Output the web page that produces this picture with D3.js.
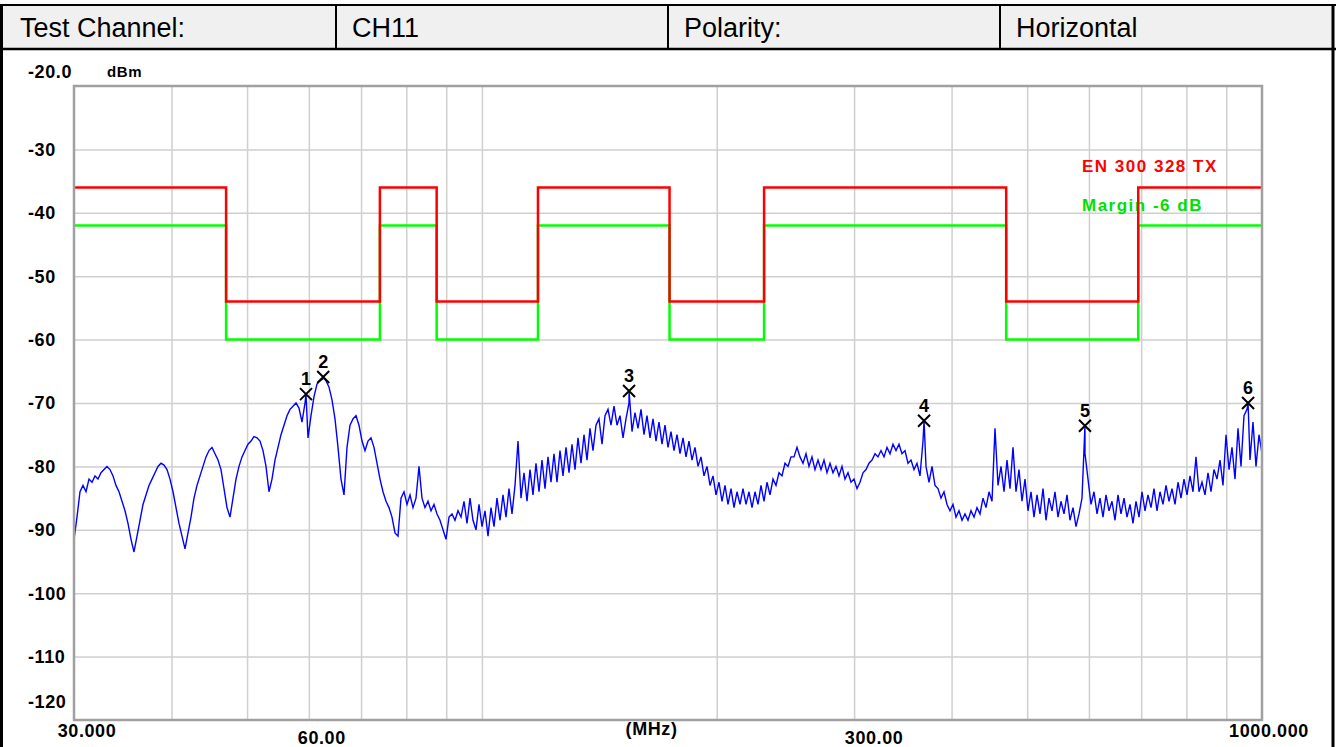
<!DOCTYPE html>
<html lang="en">
<head>
    <meta charset="UTF-8">
    <title>Radiated spurious emission - CH11 Horizontal</title>
    <script src="https://d3js.org/d3.v7.min.js"></script>
    <style>
        body {
            margin: 0;
            background: #fff;
        }
        .head-text {
            font-family: "Liberation Sans", Arial, sans-serif;
            font-size: 27px;
            fill: #000;
        }
        .axis-text {
            font-family: "Liberation Sans", Arial, sans-serif;
            font-weight: bold;
            font-size: 18px;
            fill: #000;
            letter-spacing: 0.6px;
        }
        .legend-text {
            font-family: "Liberation Sans", Arial, sans-serif;
            font-weight: bold;
            font-size: 17px;
            letter-spacing: 1.5px;
        }
        .marker-text {
            font-family: "Liberation Sans", Arial, sans-serif;
            font-weight: bold;
            font-size: 18px;
        }
    </style>
</head>
<body>
<div id="chart"></div>
<script>
    // header table
    var headCells = ["Test Channel:", "CH11", "Polarity:", "Horizontal"];

    // axes
    var yLabels = ["-20.0", "-30", "-40", "-50", "-60", "-70", "-80", "-90", "-100", "-110", "-120"];
    var yLabelValues = [-20, -30, -40, -50, -60, -70, -80, -90, -100, -110, -120];
    var yGrid = [-30, -40, -50, -60, -70, -80, -90, -100, -110];
    var xGrid = [40, 50, 60, 70, 80, 90, 100, 200, 300, 400, 500, 600, 700, 800, 900];
    var xLabels = ["30.000", "60.00", "(MHz)", "300.00", "1000.000"];

    // limit line EN 300 328 TX (dBm) and margin
    var limitEdges = [30, 47, 74, 87.5, 118, 174, 230, 470, 694, 1000];
    var limitLevels = [-36, -54, -36, -54, -36, -54, -36, -54, -36];
    var marginDb = -6;
    var legendNames = ["EN 300 328 TX", "Margin -6 dB"];

    // sweep settings (log sweep, 397 points)
    var sweepStart = 30, sweepStop = 1000;

    // measured trace, dBm, one value per sweep point
    var trace = [
        -91.5, -88.0, -84.0, -83.0, -84.0, -82.0, -82.5, -81.5, -82.0, -81.0,
        -80.5, -80.0, -80.5, -81.5, -83.0, -84.0, -85.5, -87.0, -89.0, -91.5,
        -93.5, -91.0, -88.5, -86.0, -84.5, -83.0, -82.0, -81.0, -80.0, -79.5,
        -79.8, -80.5, -82.0, -84.0, -86.5, -89.0, -91.0, -93.0, -90.5, -88.0,
        -85.0, -83.0, -81.5, -80.0, -78.5, -77.5, -77.0, -78.0, -79.0, -80.5,
        -83.5, -86.5, -88.0, -85.0, -82.0, -80.0, -78.5, -77.5, -76.5, -76.0,
        -75.3, -75.5, -76.0, -77.5, -80.0, -84.0, -82.0, -79.0, -77.0, -75.0,
        -73.5, -72.0, -71.0, -70.5, -70.0, -70.8, -73.0, -70.0, -75.5, -72.0,
        -69.0, -67.0, -66.5, -66.2, -66.5, -67.5, -69.5, -72.5, -77.0, -82.0,
        -84.5, -77.0, -73.5, -72.5, -72.0, -73.5, -76.0, -77.5, -76.0, -75.5,
        -77.0, -79.5, -82.0, -84.0, -85.5, -86.5, -88.0, -90.5, -91.0, -85.0,
        -84.0, -86.0, -84.5, -86.5, -85.0, -80.0, -85.0, -86.5, -85.5, -87.0,
        -86.0, -87.5, -88.5, -90.0, -91.5, -88.0, -87.5, -88.5, -87.0, -88.0,
        -85.5, -89.0, -85.0, -88.5, -90.0, -86.0, -89.5, -87.0, -91.0, -86.5,
        -89.5, -85.0, -88.5, -84.5, -88.0, -83.5, -87.5, -83.0, -76.0, -85.0,
        -81.0, -85.5, -80.5, -84.5, -79.5, -84.0, -79.0, -83.5, -78.5, -82.5,
        -78.0, -82.5, -77.5, -81.5, -77.0, -81.0, -76.5, -80.5, -75.5, -79.5,
        -75.0, -79.0, -74.0, -77.5, -73.5, -72.5, -76.5, -72.0, -71.0, -73.5,
        -70.5, -73.5, -72.0, -75.5, -72.5, -70.0, -74.5, -71.5, -74.0, -71.0,
        -75.0, -72.0, -75.5, -72.5, -76.0, -73.0, -76.5, -73.5, -77.0, -74.5,
        -77.5, -75.0, -78.0, -75.5, -78.5, -76.0, -79.0, -77.0, -80.0, -78.5,
        -81.5, -80.0, -83.0, -81.5, -84.5, -82.5, -85.5, -83.0, -86.0, -83.5,
        -86.5, -84.0, -86.0, -83.5, -86.0, -84.0, -86.5, -84.0, -86.0, -83.0,
        -85.5, -82.5, -84.5, -82.0, -83.0, -81.0, -81.5, -79.5, -80.0, -78.5,
        -78.5, -77.0, -78.5, -79.5, -78.0, -80.0, -78.5, -80.5, -79.0, -80.5,
        -79.0, -81.0, -79.5, -81.0, -80.0, -81.5, -80.0, -82.0, -81.0, -82.5,
        -82.0, -83.5, -82.5, -81.0, -80.5, -79.5, -79.0, -78.0, -78.5, -77.5,
        -78.5, -77.0, -78.0, -76.5, -77.5, -76.5, -78.0, -77.5, -79.5, -79.0,
        -80.5, -79.5, -81.5, -76.0, -80.0, -82.5, -80.0, -83.0, -83.5, -85.0,
        -84.0, -86.0, -87.0, -86.0, -88.0, -87.0, -88.5, -87.5, -88.5, -87.0,
        -88.0, -86.5, -87.5, -85.0, -86.5, -84.0, -85.5, -74.0, -83.0, -80.0,
        -84.0, -79.0, -83.5, -77.0, -84.0, -80.5, -85.5, -82.0, -87.0, -84.0,
        -88.0, -84.5, -87.5, -83.5, -88.5, -85.0, -87.0, -84.0, -88.0, -85.5,
        -87.5, -84.5, -88.5, -86.5, -89.5, -87.5, -85.0, -78.0, -82.0, -86.0,
        -84.0, -87.5, -85.0, -88.0, -84.5, -87.0, -85.5, -88.5, -84.5, -87.5,
        -85.0, -88.0, -86.0, -89.0, -85.5, -88.0, -84.0, -87.0, -84.5, -86.5,
        -83.5, -87.0, -84.0, -86.0, -83.0, -85.5, -83.5, -86.0, -82.5, -85.0,
        -82.0, -84.5, -81.5, -84.0, -78.5, -84.0, -82.5, -84.5, -81.0, -84.0,
        -80.5, -82.0, -79.0, -83.0, -75.0, -80.5, -77.0, -82.0, -74.0, -80.0,
        -72.0, -71.0, -79.0, -73.0, -80.0, -75.0, -78.0
    ];

    // peak markers
    var markerNo = ["1", "2", "3", "4", "5", "6"];
    var markerFreq = [59.5, 62.6, 154.4, 368.8, 593.0, 959.7];
    var markerLevel = [-68.6, -65.9, -68.1, -72.8, -73.6, -70.0];

    var W = 1336, H = 747;
    var plot = { left: 74, right: 1262, top: 86, bottom: 720 };

    var svg = d3.select("#chart")
        .append("svg")
        .attr("width", W)
        .attr("height", H)
        .style("display", "block");

    // ---- header table ----
    var cellW = (1332 - 4) / headCells.length;
    svg.append("rect")
        .attr("x", 2).attr("y", 5)
        .attr("width", 1331).attr("height", 44)
        .attr("fill", "#f0f0f0");

    svg.selectAll(".head-text")
        .data(headCells)
        .enter()
        .append("text")
        .attr("class", "head-text")
        .attr("x", (d, i) => 4 + i * cellW + 16)
        .attr("y", 37)
        .text(d => d);

    svg.selectAll(".head-div")
        .data(d3.range(1, headCells.length))
        .enter()
        .append("line")
        .attr("x1", i => 4 + i * cellW).attr("x2", i => 4 + i * cellW)
        .attr("y1", 5).attr("y2", 49)
        .attr("stroke", "#000").attr("stroke-width", 2);

    svg.append("line").attr("x1", 0).attr("x2", W).attr("y1", 5).attr("y2", 5)
        .attr("stroke", "#000").attr("stroke-width", 2);
    svg.append("line").attr("x1", 0).attr("x2", W).attr("y1", 49).attr("y2", 49)
        .attr("stroke", "#000").attr("stroke-width", 2.5);
    svg.append("line").attr("x1", 1.5).attr("x2", 1.5).attr("y1", 4).attr("y2", H)
        .attr("stroke", "#000").attr("stroke-width", 3);
    svg.append("line").attr("x1", 1333).attr("x2", 1333).attr("y1", 4).attr("y2", H)
        .attr("stroke", "#000").attr("stroke-width", 3);

    // ---- scales ----
    var x = d3.scaleLog()
        .domain([sweepStart, sweepStop])
        .range([plot.left, plot.right]);

    var y = d3.scaleLinear()
        .domain([-120, -20])
        .range([plot.bottom, plot.top]);

    // grid lines
    svg.append("g")
        .attr("transform", "translate(0," + plot.bottom + ")")
        .call(d3.axisBottom(x).tickValues(xGrid).tickSize(-(plot.bottom - plot.top)).tickFormat(""))
        .call(g => g.select(".domain").remove())
        .call(g => g.selectAll(".tick line").attr("stroke", "#cfcfcf").attr("stroke-width", 1.5));

    svg.append("g")
        .attr("transform", "translate(" + plot.left + ",0)")
        .call(d3.axisLeft(y).tickValues(yGrid).tickSize(-(plot.right - plot.left)).tickFormat(""))
        .call(g => g.select(".domain").remove())
        .call(g => g.selectAll(".tick line").attr("stroke", "#cfcfcf").attr("stroke-width", 1.5));

    // y labels
    svg.selectAll(".ylab")
        .data(yLabels)
        .enter()
        .append("text")
        .attr("class", "axis-text")
        .attr("x", 28)
        .attr("y", (d, i) => {
            var v = yLabelValues[i];
            if (v === -20) return y(v) - 14;
            if (v === -120) return y(v) - 18;
            return y(v);
        })
        .attr("dy", "0.36em")
        .text(d => d);

    svg.append("text")
        .attr("class", "axis-text")
        .attr("x", 107)
        .attr("y", 72)
        .attr("dy", "0.36em")
        .style("font-size", "15px")
        .text("dBm");

    // x labels (staggered as in the analyser print)
    var xLabelPos = [
        { f: 30, dx: 13, dy: 11 },
        { f: 60, dx: 13, dy: 18 },
        { f: 165, dx: 0, dy: 9 },
        { f: 300, dx: 20, dy: 18 },
        { f: 1000, dx: 7, dy: 11 }
    ];
    svg.selectAll(".xlab")
        .data(xLabels)
        .enter()
        .append("text")
        .attr("class", "axis-text")
        .attr("text-anchor", "middle")
        .attr("x", (d, i) => x(xLabelPos[i].f) + xLabelPos[i].dx)
        .attr("y", (d, i) => plot.bottom + xLabelPos[i].dy)
        .attr("dy", "0.36em")
        .text(d => d);

    // legend
    svg.append("text").attr("class", "legend-text")
        .attr("x", 1082).attr("y", 166).attr("dy", "0.36em")
        .attr("fill", "#ff0000").text(legendNames[0]);
    svg.append("text").attr("class", "legend-text")
        .attr("x", 1082).attr("y", 205).attr("dy", "0.36em")
        .attr("fill", "#00e000").text(legendNames[1]);

    // limit and margin lines
    var limitPts = limitEdges.map((f, i) => ({ f: f, v: limitLevels[Math.min(i, limitLevels.length - 1)] }));
    var stepLine = d3.line()
        .x(d => x(d.f))
        .y(d => y(d.v))
        .curve(d3.curveStepAfter);

    svg.append("path")
        .datum(limitPts.map(d => ({ f: d.f, v: d.v + marginDb })))
        .attr("fill", "none")
        .attr("stroke", "#00ff00")
        .attr("stroke-width", 2.5)
        .attr("d", stepLine);

    svg.append("path")
        .datum(limitPts)
        .attr("fill", "none")
        .attr("stroke", "#ff0000")
        .attr("stroke-width", 2.5)
        .attr("d", stepLine);

    // trace
    var n = trace.length;
    var tracePts = trace.map((v, i) => ({
        f: sweepStart * Math.pow(sweepStop / sweepStart, i / (n - 1)),
        v: v
    }));
    markerFreq.forEach((f, i) => tracePts.push({ f: f, v: markerLevel[i] }));
    tracePts.sort((a, b) => a.f - b.f);

    var line = d3.line()
        .x(d => x(d.f))
        .y(d => y(d.v));

    svg.append("path")
        .datum(tracePts)
        .attr("fill", "none")
        .attr("stroke", "#0000ff")
        .attr("stroke-width", 1.4)
        .attr("d", line);

    // markers
    var mk = svg.selectAll(".marker")
        .data(markerNo)
        .enter()
        .append("g")
        .attr("transform", (d, i) => "translate(" + x(markerFreq[i]) + "," + y(markerLevel[i]) + ")");

    mk.append("path")
        .attr("d", "M-6,-6L6,6M-6,6L6,-6")
        .attr("stroke", "#000")
        .attr("stroke-width", 2)
        .attr("fill", "none");

    mk.append("text")
        .attr("class", "marker-text")
        .attr("text-anchor", "middle")
        .attr("y", -9)
        .text(d => d);

    // plot frame
    svg.append("rect")
        .attr("x", plot.left)
        .attr("y", plot.top)
        .attr("width", plot.right - plot.left)
        .attr("height", plot.bottom - plot.top)
        .attr("fill", "none")
        .attr("stroke", "#a0a0a0")
        .attr("stroke-width", 2.5);
</script>
</body>
</html>
